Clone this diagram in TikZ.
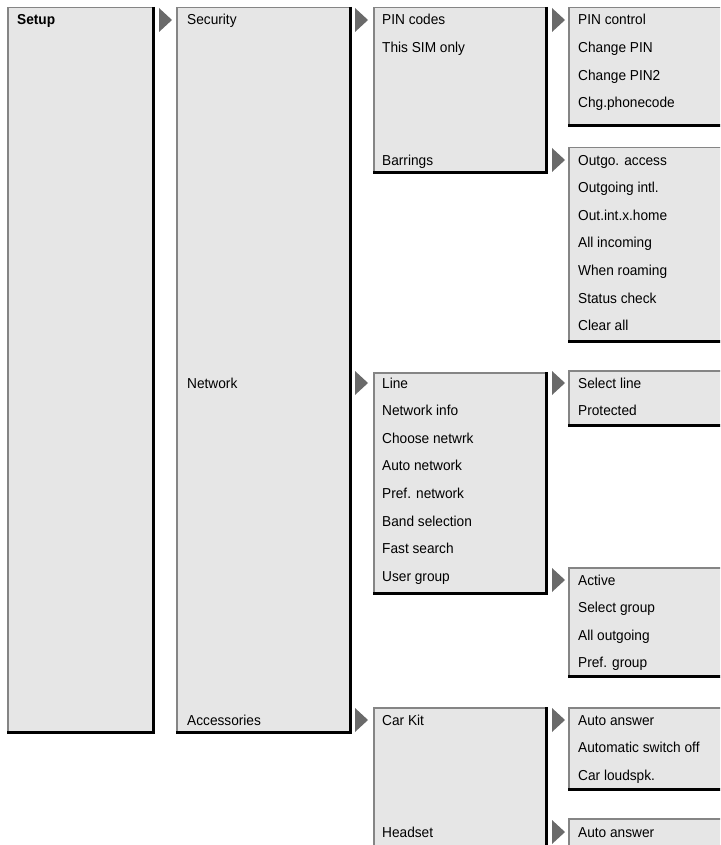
\documentclass[tikz,border=0pt]{standalone}
\usepackage{fontspec}
\setmainfont[FakeStretch=0.95]{Liberation Sans}
\definecolor{boxfill}{HTML}{E6E6E6}
\definecolor{liteedge}{HTML}{858585}
\definecolor{tricol}{HTML}{6A6A6A}
\tikzset{
  menubox/.style={fill=boxfill, draw=none, inner sep=0pt, outer sep=0pt, anchor=north west, rectangle},
  litline/.style={draw=liteedge, line width=1.5pt},
  darkline/.style={draw=black, line width=3pt},
  item/.style={anchor=base west, inner sep=0pt, font=\fontsize{14.4}{16}\selectfont},
  tri/.style={fill=tricol, draw=none},
}
\newcommand\menubox[5]{%
  \node[menubox, minimum width={(#4-#2)*1pt}, minimum height={(#5-#3)*1pt}] (#1) at (#2,#3) {};
  \draw[litline] ([xshift=0.75pt]#1.south west) -- ([xshift=0.75pt,yshift=-0.75pt]#1.north west) -- ([yshift=-0.75pt]#1.north east);
  \draw[darkline] ([xshift=-1.5pt]#1.north east) -- ([xshift=-1.5pt,yshift=1.5pt]#1.south east) -- ([yshift=1.5pt]#1.south west);
}
\newcommand\menutri[3]{% name, x, y(center)
  \coordinate (#1) at (#2,#3);
  \fill[tri] ([yshift=12pt]#1) -- ([xshift=13pt]#1) -- ([yshift=-12pt]#1) -- cycle;
}
\begin{document}
\begin{tikzpicture}[x=1pt,y=-1pt]
\useasboundingbox (0,0) rectangle (720,845);
\clip (0,0) rectangle (720,845);
\def\rs{27.65}
% column 1
\menubox{c1}{7}{7}{155}{734}
\node[item, font=\fontsize{14.4}{16}\selectfont\bfseries] (setup) at (17,25) {Setup};
% column 2
\menutri{t1}{159}{20}
\menubox{c2}{176}{7}{352}{734}
\node[item] (sec) at (187,25) {Security};
\node[item] (net) at (187,388) {Network};
\node[item] (acc) at (187,725) {Accessories};
% column 3
\menutri{t2}{355}{20}
\menutri{t3}{355}{383}
\menutri{t4}{355}{720}
\menubox{c3a}{373}{7}{548}{174}
\node[item] (pin) at (382,25) {PIN codes};
\node[item] (sim) at (382,25+\rs) {This SIM only};
\node[item] (bar) at (382,165) {Barrings};
\menubox{c3b}{373}{372}{548}{595}
\node[item] (line) at (382,388) {Line};
\node[item] (ninfo) at (382,388+\rs) {Network info};
\node[item] (choose) at (382,388+2*\rs) {Choose netwrk};
\node[item] (auto) at (382,388+3*\rs) {Auto network};
\node[item] (pref) at (382,388+4*\rs) {Pref. network};
\node[item] (band) at (382,388+5*\rs) {Band selection};
\node[item] (fast) at (382,388+6*\rs) {Fast search};
\node[item] (ug) at (382,388+7*\rs) {User group};
\menubox{c3c}{373}{707}{548}{880}
\node[item] (car) at (382,725) {Car Kit};
\node[item] (head) at (382,837) {Headset};
% column 4
\menutri{t5}{552}{20}
\menutri{t6}{552}{160}
\menutri{t7}{552}{383}
\menutri{t8}{552}{580}
\menutri{t9}{552}{720}
\menutri{t10}{552}{832}
\menubox{c4a}{568}{7}{760}{127}
\node[item] (p1) at (578,25) {PIN control};
\node[item] (p2) at (578,25+\rs) {Change PIN};
\node[item] (p3) at (578,25+2*\rs) {Change PIN2};
\node[item] (p4) at (578,25+3*\rs) {Chg.phonecode};
\menubox{c4b}{568}{147}{760}{343}
\node[item] (b1) at (578,165) {Outgo. access};
\node[item] (b2) at (578,165+\rs) {Outgoing intl.};
\node[item] (b3) at (578,165+2*\rs) {Out.int.x.home};
\node[item] (b4) at (578,165+3*\rs) {All incoming};
\node[item] (b5) at (578,165+4*\rs) {When roaming};
\node[item] (b6) at (578,165+5*\rs) {Status check};
\node[item] (b7) at (578,165+6*\rs) {Clear all};
\menubox{c4c}{568}{370}{760}{427}
\node[item] (l1) at (578,388) {Select line};
\node[item] (l2) at (578,388+\rs) {Protected};
\menubox{c4d}{568}{567}{760}{678}
\node[item] (u1) at (578,585) {Active};
\node[item] (u2) at (578,585+\rs) {Select group};
\node[item] (u3) at (578,585+2*\rs) {All outgoing};
\node[item] (u4) at (578,585+3*\rs) {Pref. group};
\menubox{c4e}{568}{707}{760}{791}
\node[item] (k1) at (578,725) {Auto answer};
\node[item] (k2) at (578,725+\rs) {Automatic switch off};
\node[item] (k3) at (578,725+2*\rs) {Car loudspk.};
\menubox{c4f}{568}{818}{760}{900}
\node[item] (h1) at (578,837) {Auto answer};
\end{tikzpicture}
\end{document}
